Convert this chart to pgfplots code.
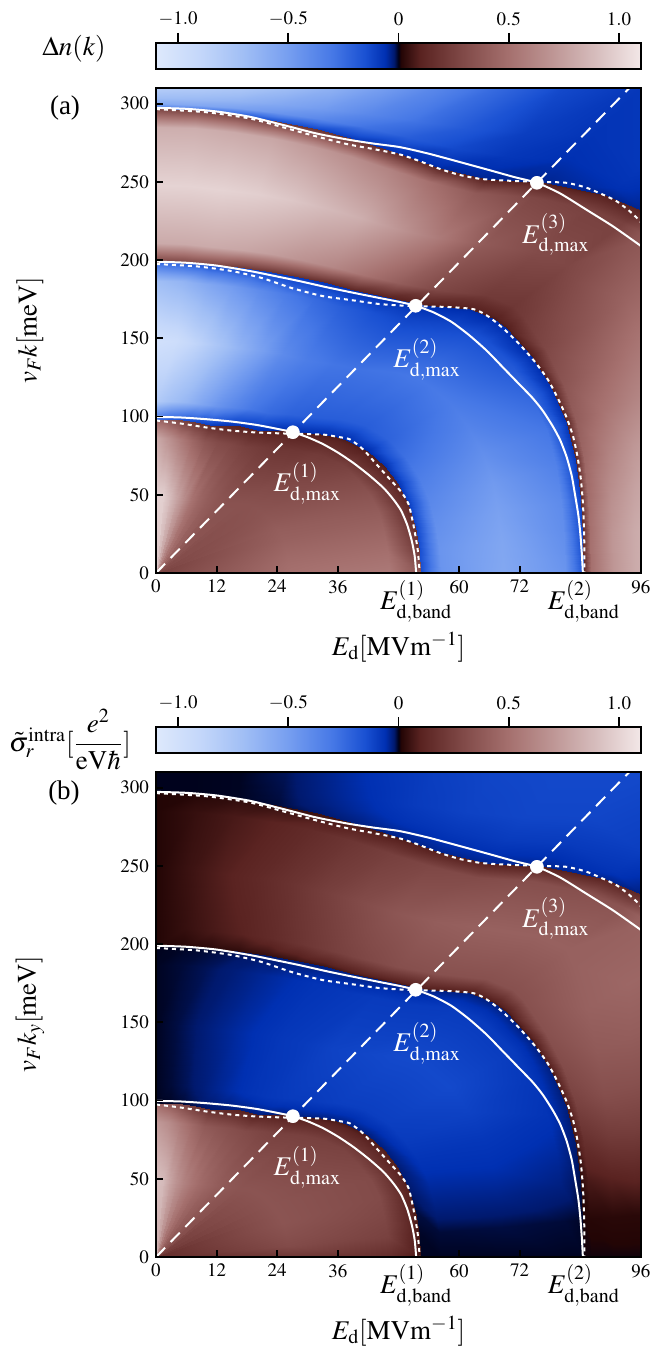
\documentclass[border=0pt]{standalone}
\usepackage{mathptmx}
\usepackage[no-math]{fontspec}
\setmainfont{Liberation Serif}
\usepackage{pgfplots}
\usepackage{pgfplotstable}
\pgfplotsset{compat=1.18}
\newcommand\lab{\fontsize{13.5}{16}\selectfont}

\pgfplotsset{colormap={dn}{
  rgb255(0pt)=(222,233,252)
  rgb255(20pt)=(196,215,250)
  rgb255(40pt)=(160,190,245)
  rgb255(60pt)=(118,158,240)
  rgb255(80pt)=(70,120,230)
  rgb255(95pt)=(25,80,210)
  rgb255(104pt)=(0,48,178)
  rgb255(108pt)=(0,25,110)
  rgb255(110pt)=(0,0,20)
  rgb255(111pt)=(35,5,5)
  rgb255(120pt)=(90,35,33)
  rgb255(140pt)=(130,75,73)
  rgb255(160pt)=(165,112,110)
  rgb255(180pt)=(190,150,149)
  rgb255(200pt)=(215,190,190)
  rgb255(220pt)=(243,232,232)
}}

% mesh: 20 rays x 18 points, from the origin outward across the sign boundaries
\pgfplotstableread{
x y a b
0 0 0.25 0.15
26.25 0 0.5 0.2
46.2 0 0.55 0.15
52.5 0 0.35 0.05
52.5 0 -0.15 -0.003
56.38 0 -0.45 -0.003
68.65 0 -0.56 -0.003
80.92 0 -0.45 -0.003
84.8 0 -0.15 -0.003
84.8 0 0.15 0.005
86.14 0 0.5 0.005
90.4 0 0.7 0.005
94.66 0 0.8 0.005
96 0 0.82 0.005
96 0 0.82 0.005
96 0 0.82 0.005
96 0 0.82 0.005
96 0 0.82 0.005
0 0 0.25 0.15
26.1 7.35 0.48 0.3
45.94 12.94 0.5 0.25
52.2 14.7 0.2 0.06
52.2 14.7 -0.15 -0.004
56.09 15.8 -0.45 -0.008
68.4 19.3 -0.55 -0.01
80.71 22.8 -0.42 -0.008
84.6 23.9 -0.12 -0.004
84.6 23.9 0.15 0.008
85.97 24.28 0.5 0.015
90.3 25.5 0.7 0.02
94.63 26.72 0.8 0.02
96 27.1 0.82 0.02
96 27.1 0.82 0.02
96 27.1 0.82 0.02
96 27.1 0.82 0.02
96 27.1 0.82 0.02
0 0 0.25 0.15
25.7 14.65 0.45 0.33
45.23 25.78 0.45 0.28
51.4 29.3 0.15 0.07
51.4 29.3 -0.12 -0.01
55.32 31.53 -0.42 -0.03
67.75 38.6 -0.52 -0.035
80.18 45.67 -0.4 -0.03
84.1 47.9 -0.1 -0.01
84.1 47.9 0.15 0.03
85.53 48.72 0.48 0.07
90.05 51.3 0.66 0.1
94.57 53.88 0.76 0.12
96 54.7 0.78 0.12
96 54.7 0.78 0.12
96 54.7 0.78 0.12
96 54.7 0.78 0.12
96 54.7 0.78 0.12
0 0 0.25 0.15
25.05 21.7 0.42 0.35
44.09 38.19 0.4 0.3
50.1 43.4 0.12 0.08
50.1 43.4 -0.1 -0.02
54.07 46.83 -0.38 -0.05
66.65 57.7 -0.48 -0.06
79.23 68.57 -0.35 -0.05
83.2 72 -0.08 -0.02
83.2 72 0.12 0.06
84.74 73.33 0.45 0.16
89.6 77.55 0.6 0.22
94.46 81.77 0.7 0.24
96 83.1 0.72 0.24
96 83.1 0.72 0.24
96 83.1 0.72 0.24
96 83.1 0.72 0.24
96 83.1 0.72 0.24
0 0 0.25 0.15
24.05 28.3 0.4 0.35
42.33 49.81 0.35 0.3
48.1 56.6 0.1 0.08
48.1 56.6 -0.08 -0.025
52.1 61.29 -0.33 -0.07
64.75 76.15 -0.42 -0.08
77.4 91.01 -0.3 -0.07
81.4 95.7 -0.07 -0.025
81.4 95.7 0.1 0.07
83.15 97.75 0.4 0.25
88.7 104.25 0.52 0.32
94.25 110.75 0.6 0.33
96 112.8 0.62 0.33
96 112.8 0.62 0.33
96 112.8 0.62 0.33
96 112.8 0.62 0.33
96 112.8 0.62 0.33
0 0 0.27 0.17
22.65 34.15 0.37 0.35
39.86 60.1 0.3 0.28
45.3 68.3 0.08 0.08
45.3 68.3 -0.06 -0.03
49.27 74.28 -0.27 -0.09
61.85 93.2 -0.36 -0.11
74.43 112.12 -0.24 -0.08
78.4 118.1 -0.06 -0.03
78.4 118.1 0.1 0.07
80.51 121.28 0.35 0.3
87.2 131.35 0.44 0.38
93.89 141.42 0.52 0.4
96 144.6 0.54 0.4
96 144.6 0.54 0.4
96 144.6 0.54 0.4
96 144.6 0.54 0.4
96 144.6 0.54 0.4
0 0 0.28 0.2
21 39.15 0.35 0.35
36.96 68.9 0.25 0.26
42 78.3 0.08 0.07
42 78.3 -0.05 -0.03
45.9 85.57 -0.22 -0.1
58.25 108.6 -0.32 -0.13
70.6 131.63 -0.18 -0.09
74.5 138.9 -0.05 -0.03
74.5 138.9 0.08 0.07
77.08 143.71 0.28 0.33
85.25 158.95 0.36 0.42
93.42 174.19 0.44 0.45
96 179 0.45 0.45
96 179 0.45 0.45
96 179 0.45 0.45
96 179 0.45 0.45
96 179 0.45 0.45
0 0 0.3 0.22
18.85 42.6 0.34 0.35
33.18 74.98 0.22 0.25
37.7 85.2 0.08 0.07
37.7 85.2 -0.05 -0.03
41.5 93.8 -0.2 -0.1
53.55 121.05 -0.3 -0.13
65.6 148.3 -0.15 -0.09
69.4 156.9 -0.05 -0.03
69.4 156.9 0.08 0.07
72.59 164.12 0.22 0.33
82.7 187 0.3 0.42
92.81 209.88 0.35 0.42
96 217.1 0.35 0.42
96 217.1 0.35 0.42
96 217.1 0.35 0.42
96 217.1 0.35 0.42
96 217.1 0.35 0.42
0 0 0.3 0.22
17.95 43.35 0.34 0.35
31.59 76.3 0.22 0.25
35.9 86.7 0.08 0.07
35.9 86.7 -0.05 -0.03
39.66 95.77 -0.2 -0.1
51.55 124.5 -0.3 -0.13
63.44 153.23 -0.14 -0.09
67.2 162.3 -0.05 -0.03
67.2 162.3 0.08 0.07
70.66 170.66 0.2 0.33
81.6 197.15 0.28 0.42
92.54 223.64 0.25 0.35
96 232 0.1 0.12
96 232 -0.04 -0.03
96 232 -0.04 -0.03
96 232 -0.04 -0.03
96 232 -0.04 -0.03
0 0 0.32 0.25
16.35 44.35 0.34 0.35
28.78 78.06 0.2 0.25
32.7 88.7 0.08 0.07
32.7 88.7 -0.05 -0.03
36.24 98.3 -0.2 -0.1
47.45 128.7 -0.29 -0.13
58.66 159.1 -0.12 -0.09
62.2 168.7 -0.05 -0.03
62.2 168.7 0.08 0.07
65.43 177.42 0.22 0.33
75.65 205.05 0.3 0.42
85.87 232.68 0.25 0.33
89.1 241.4 0.08 0.1
89.1 241.4 -0.04 -0.04
90.83 246.08 -0.06 -0.07
92.55 250.75 -0.07 -0.08
96 260.1 -0.08 -0.1
0 0 0.35 0.3
13.95 44.95 0.34 0.37
24.55 79.11 0.2 0.25
27.9 89.9 0.08 0.07
27.9 89.9 -0.05 -0.03
30.91 99.67 -0.2 -0.09
40.45 130.6 -0.28 -0.12
49.99 161.53 -0.12 -0.09
53 171.3 -0.05 -0.03
53 171.3 0.08 0.07
55.92 180.68 0.28 0.33
65.15 210.4 0.38 0.42
74.38 240.12 0.28 0.32
77.3 249.5 0.08 0.08
77.3 249.5 -0.04 -0.04
81.98 264.63 -0.06 -0.09
86.65 279.75 -0.07 -0.12
96 310 -0.08 -0.13
0 0 0.4 0.33
11.85 45.6 0.36 0.4
20.86 80.26 0.22 0.27
23.7 91.2 0.08 0.08
23.7 91.2 -0.05 -0.03
26.35 101.41 -0.22 -0.09
34.75 133.75 -0.29 -0.11
43.15 166.09 -0.15 -0.09
45.8 176.3 -0.05 -0.03
45.8 176.3 0.1 0.07
48.16 185.37 0.4 0.32
55.65 214.1 0.56 0.4
63.14 242.83 0.38 0.3
65.5 251.9 0.08 0.08
65.5 251.9 -0.04 -0.04
69.28 266.43 -0.08 -0.09
73.05 280.95 -0.1 -0.12
80.6 310 -0.13 -0.13
0 0 0.45 0.36
9.95 45.75 0.4 0.44
17.51 80.52 0.25 0.3
19.9 91.5 0.1 0.08
19.9 91.5 -0.06 -0.03
22.22 102.23 -0.25 -0.08
29.55 136.2 -0.33 -0.09
36.88 170.17 -0.2 -0.08
39.2 180.9 -0.06 -0.03
39.2 180.9 0.12 0.07
41.24 190.28 0.52 0.28
47.7 220 0.7 0.36
54.16 249.72 0.5 0.28
56.2 259.1 0.1 0.08
56.2 259.1 -0.05 -0.04
58.95 271.83 -0.13 -0.08
61.7 284.55 -0.18 -0.11
67.2 310 -0.25 -0.12
0 0 0.5 0.4
8.4 46.85 0.45 0.48
14.78 82.46 0.28 0.32
16.8 93.7 0.1 0.1
16.8 93.7 -0.07 -0.03
18.77 104.76 -0.3 -0.07
25 139.8 -0.4 -0.08
31.23 174.84 -0.25 -0.07
33.2 185.9 -0.07 -0.03
33.2 185.9 0.15 0.06
34.98 195.78 0.62 0.24
40.6 227.05 0.82 0.3
46.22 258.32 0.6 0.24
48 268.2 0.12 0.07
48 268.2 -0.06 -0.035
49.85 278.65 -0.2 -0.07
51.7 289.1 -0.28 -0.09
55.4 310 -0.38 -0.1
0 0 0.55 0.45
6.85 47.4 0.52 0.53
12.06 83.42 0.3 0.35
13.7 94.8 0.12 0.12
13.7 94.8 -0.08 -0.025
15.34 106.21 -0.38 -0.055
20.55 142.35 -0.52 -0.065
25.76 178.49 -0.32 -0.055
27.4 189.9 -0.08 -0.025
27.4 189.9 0.18 0.05
28.91 200.35 0.68 0.19
33.7 233.45 0.88 0.24
38.49 266.55 0.66 0.19
40 277 0.15 0.06
40 277 -0.08 -0.03
41.2 285.25 -0.28 -0.05
42.4 293.5 -0.38 -0.06
44.8 310 -0.5 -0.07
0 0 0.62 0.5
5.35 47.45 0.66 0.6
9.42 83.51 0.36 0.38
10.7 94.9 0.15 0.15
10.7 94.9 -0.1 -0.02
12.02 106.66 -0.45 -0.04
16.2 143.9 -0.64 -0.05
20.38 181.14 -0.4 -0.04
21.7 192.9 -0.1 -0.02
21.7 192.9 0.2 0.04
22.94 203.8 0.74 0.14
26.85 238.3 0.94 0.18
30.76 272.8 0.72 0.14
32 283.7 0.18 0.05
32 283.7 -0.12 -0.02
32.73 290.28 -0.38 -0.03
33.45 296.85 -0.48 -0.035
34.9 310 -0.62 -0.04
0 0 0.7 0.58
4 48.15 0.78 0.68
7.04 84.74 0.45 0.46
8 96.3 0.2 0.2
8 96.3 -0.12 -0.015
8.98 108.19 -0.55 -0.025
12.1 145.85 -0.76 -0.035
15.22 183.51 -0.48 -0.025
16.2 195.4 -0.12 -0.015
16.2 195.4 0.22 0.03
17.14 206.64 0.78 0.1
20.1 242.25 0.98 0.13
23.06 277.86 0.78 0.1
24 289.1 0.2 0.04
24 289.1 -0.15 -0.008
24.43 294.33 -0.45 -0.01
24.85 299.55 -0.56 -0.012
25.7 310 -0.7 -0.015
0 0 0.8 0.68
2.65 48.8 0.9 0.78
4.66 85.89 0.56 0.55
5.3 97.6 0.25 0.28
5.3 97.6 -0.15 -0.008
5.95 109.49 -0.65 -0.015
8 147.15 -0.88 -0.02
10.05 184.81 -0.56 -0.015
10.7 196.7 -0.15 -0.008
10.7 196.7 0.25 0.02
11.34 208.28 0.8 0.07
13.35 244.95 1.0 0.09
15.36 281.62 0.8 0.07
16 293.2 0.22 0.03
16 293.2 -0.2 -0.003
16.23 297.4 -0.52 -0.003
16.45 301.6 -0.63 -0.003
16.9 310 -0.77 -0.003
0 0 0.88 0.76
1.35 49.1 0.98 0.88
2.38 86.42 0.68 0.65
2.7 98.2 0.35 0.38
2.7 98.2 -0.2 -0.004
3.02 110.22 -0.72 -0.008
4.05 148.3 -0.97 -0.01
5.08 186.38 -0.64 -0.008
5.4 198.4 -0.2 -0.004
5.4 198.4 0.25 0.015
5.71 210.1 0.8 0.04
6.7 247.15 1.0 0.05
7.69 284.2 0.82 0.04
8 295.9 0.25 0.015
8 295.9 -0.25 -0.002
8.1 299.43 -0.56 -0.002
8.2 302.95 -0.67 -0.002
8.4 310 -0.8 -0.002
0 0 0.95 0.82
0 49 1.0 0.92
0 86.24 0.8 0.72
0 98 0.45 0.48
0 98 -0.25 -0.002
0 110.12 -0.8 -0.003
0 148.5 -1.0 -0.003
0 186.88 -0.7 -0.003
0 199 -0.25 -0.002
0 199 0.25 0.01
0 210.76 0.8 0.01
0 248 1.0 0.01
0 285.24 0.82 0.01
0 297 0.25 0.01
0 297 -0.3 -0.002
0 300.25 -0.58 -0.002
0 303.5 -0.69 -0.002
0 310 -0.82 -0.002
}\meshdata

\pgfplotsset{panel/.style={
  width=242.5pt, height=242.5pt, scale only axis,
  xmin=0, xmax=96, ymin=0, ymax=310,
  axis on top,
  colormap name=dn,
  point meta min=-1.1, point meta max=1.1,
  xtick={0,12,24,36,60,72,96},
  ytick={0,50,100,150,200,250,300},
  tick align=inside, tick pos=left,
  major tick length=3.5pt,
  every tick/.style={black, line width=0.9pt},
  axis line style={line width=1.2pt},
  tick label style={font=\fontsize{9.5}{11}\selectfont},
  label style={font=\lab},
  extra x ticks={51.5,84.7},
  extra x tick labels={$E^{(1)}_{\mathrm{d,band}}$,$E^{(2)}_{\mathrm{d,band}}$},
  extra x tick style={major tick length=0pt, tick label style={font=\lab}},
  xlabel={$E_{\mathrm{d}}[\mathrm{MVm}^{-1}]$},
  xlabel style={at={(axis description cs:0.5,-0.1526)}, anchor=center},
  ylabel style={at={(axis description cs:-0.26,0.5)}, anchor=center},
  colorbar horizontal,
  colorbar shift/.style={},
  colorbar style={
    at={(parent axis.north west)}, anchor=south west, yshift=9.5pt,
    width=242.5pt, height=13pt, scale only axis,
    xtick={-1,-0.5,0,0.5,1},
    xticklabels={$-1.0$,$-0.5$,$0$,$0.5$,$1.0$},
    xtick pos=right, xticklabel pos=right,
    tick align=outside, major tick length=5pt,
    every tick/.style={black, line width=0.9pt},
    axis line style={line width=1.2pt},
    tick label style={font=\fontsize{9.5}{11}\selectfont},
    ytick=\empty,
  },
}}

\begin{document}
\begin{tikzpicture}
\useasboundingbox (-78pt,-388.5pt) rectangle (248pt,286.5pt);
% ---------------- panel (a)
\begin{axis}[panel, at={(0pt,0pt)}, anchor=south west, ylabel={$v_F k[\mathrm{meV}]$}]
\addplot[surf, shader=interp, mesh/rows=20, mesh/cols=18, point meta=explicit] table[x=x, y=y, meta=a] {\meshdata};
\addplot[white, line width=1pt, smooth, tension=0.4] coordinates {(0,99.8) (5,99.4) (10,98.3) (15,96.8) (20,94.6) (25,91.5) (27.1,90) (30,86.8) (33,82.5) (36,77) (39,70.5) (42,63) (45,54.5) (47,47) (48.5,40) (49.7,31) (50.6,21) (51.2,11) (51.5,0)};
\addplot[white, line width=1pt, smooth, tension=0.4] coordinates {(0,199) (6,198.3) (12,196.5) (18.6,193) (24,189.5) (28.5,186.5) (34,182.5) (40,178.5) (45,175.3) (48.3,173.2) (51.4,170.8) (55,166.5) (58.5,160.5) (62,152) (65.5,142) (68.5,132) (71.5,122) (74.5,112) (76.5,104) (78.5,94) (80,85) (81.3,74) (82.3,62) (83,49) (83.6,37) (84,25) (84.3,12) (84.5,0)};
\addplot[white, line width=1pt, smooth, tension=0.4] coordinates {(0,297.3) (6,296.7) (12,295) (18.6,291.6) (25,286.5) (31.8,280.9) (38,277) (43,274.5) (48.3,272.2) (54,268) (60,262.8) (66,257.5) (71,253) (75.4,249.4) (80,242.6) (85.3,232) (90.5,221.5) (96,209)};
\addplot[white, line width=1pt, dash pattern=on 2pt off 2pt, smooth, tension=0.4] coordinates {(0,97.5) (5,95.5) (10,93) (15,91) (20,89.8) (27,89) (33,88.5) (36,87) (38.4,85.4) (41,79) (43.5,70) (46,61) (48.5,52) (50,44) (51,30) (51.8,15) (52.2,0)};
\addplot[white, line width=1pt, dash pattern=on 2pt off 2pt, smooth, tension=0.4] coordinates {(0,197.5) (8,196) (15,193) (21,188.5) (27,182) (33,177) (38.5,174.5) (44,172) (48.3,171) (52,170.5) (58,170) (63,168.5) (66,163.5) (69,155.5) (72,146) (75,135) (77.5,124) (79.5,112) (81.2,100) (82.5,88) (83.4,75) (84.1,60) (84.5,45) (84.7,30) (84.8,15) (84.8,0)};
\addplot[white, line width=1pt, dash pattern=on 2pt off 2pt, smooth, tension=0.4] coordinates {(0,296.5) (10,294.5) (18.6,290.5) (25,285) (31.8,279) (38,274) (43,271) (48.3,267.5) (52,263.5) (56,258.5) (60,254.5) (64,252) (68,251) (75.4,250) (81,249.5) (85,246.5) (88,242.5) (91,238) (93.5,232) (95.5,226) (96,224)};
\addplot[white, line width=1pt, dash pattern=on 6.5pt off 4pt] coordinates {(0,0) (93.7,310)};
\addplot[only marks, mark=*, mark size=3.2pt, white] coordinates {(27.1,90) (51.4,170.8) (75.4,249.4)};
\node[anchor=north west, inner sep=0pt, text=white, font=\lab] at (axis cs:23.2,71) {$E^{(1)}_{\mathrm{d,max}}$};
\node[anchor=north west, inner sep=0pt, text=white, font=\lab] at (axis cs:46.9,150) {$E^{(2)}_{\mathrm{d,max}}$};
\node[anchor=north west, inner sep=0pt, text=white, font=\lab] at (axis cs:72.4,229.8) {$E^{(3)}_{\mathrm{d,max}}$};
\end{axis}
% ---------------- panel (b)
\begin{axis}[panel, at={(0pt,-342pt)}, anchor=south west, ylabel={$v_F k_y[\mathrm{meV}]$}]
\addplot[surf, shader=interp, mesh/rows=20, mesh/cols=18, point meta=explicit] table[x=x, y=y, meta=b] {\meshdata};
\addplot[white, line width=1pt, smooth, tension=0.4] coordinates {(0,99.8) (5,99.4) (10,98.3) (15,96.8) (20,94.6) (25,91.5) (27.1,90) (30,86.8) (33,82.5) (36,77) (39,70.5) (42,63) (45,54.5) (47,47) (48.5,40) (49.7,31) (50.6,21) (51.2,11) (51.5,0)};
\addplot[white, line width=1pt, smooth, tension=0.4] coordinates {(0,199) (6,198.3) (12,196.5) (18.6,193) (24,189.5) (28.5,186.5) (34,182.5) (40,178.5) (45,175.3) (48.3,173.2) (51.4,170.8) (55,166.5) (58.5,160.5) (62,152) (65.5,142) (68.5,132) (71.5,122) (74.5,112) (76.5,104) (78.5,94) (80,85) (81.3,74) (82.3,62) (83,49) (83.6,37) (84,25) (84.3,12) (84.5,0)};
\addplot[white, line width=1pt, smooth, tension=0.4] coordinates {(0,297.3) (6,296.7) (12,295) (18.6,291.6) (25,286.5) (31.8,280.9) (38,277) (43,274.5) (48.3,272.2) (54,268) (60,262.8) (66,257.5) (71,253) (75.4,249.4) (80,242.6) (85.3,232) (90.5,221.5) (96,209)};
\addplot[white, line width=1pt, dash pattern=on 2pt off 2pt, smooth, tension=0.4] coordinates {(0,97.5) (5,95.5) (10,93) (15,91) (20,89.8) (27,89) (33,88.5) (36,87) (38.4,85.4) (41,79) (43.5,70) (46,61) (48.5,52) (50,44) (51,30) (51.8,15) (52.2,0)};
\addplot[white, line width=1pt, dash pattern=on 2pt off 2pt, smooth, tension=0.4] coordinates {(0,197.5) (8,196) (15,193) (21,188.5) (27,182) (33,177) (38.5,174.5) (44,172) (48.3,171) (52,170.5) (58,170) (63,168.5) (66,163.5) (69,155.5) (72,146) (75,135) (77.5,124) (79.5,112) (81.2,100) (82.5,88) (83.4,75) (84.1,60) (84.5,45) (84.7,30) (84.8,15) (84.8,0)};
\addplot[white, line width=1pt, dash pattern=on 2pt off 2pt, smooth, tension=0.4] coordinates {(0,296.5) (10,294.5) (18.6,290.5) (25,285) (31.8,279) (38,274) (43,271) (48.3,267.5) (52,263.5) (56,258.5) (60,254.5) (64,252) (68,251) (75.4,250) (81,249.5) (85,246.5) (88,242.5) (91,238) (93.5,232) (95.5,226) (96,224)};
\addplot[white, line width=1pt, dash pattern=on 6.5pt off 4pt] coordinates {(0,0) (93.7,310)};
\addplot[only marks, mark=*, mark size=3.2pt, white] coordinates {(27.1,90) (51.4,170.8) (75.4,249.4)};
\node[anchor=north west, inner sep=0pt, text=white, font=\lab] at (axis cs:23.2,71) {$E^{(1)}_{\mathrm{d,max}}$};
\node[anchor=north west, inner sep=0pt, text=white, font=\lab] at (axis cs:46.9,150) {$E^{(2)}_{\mathrm{d,max}}$};
\node[anchor=north west, inner sep=0pt, text=white, font=\lab] at (axis cs:72.4,229.8) {$E^{(3)}_{\mathrm{d,max}}$};
\end{axis}
\node[font=\lab] at (-41pt,262pt) {$\Delta n(k)$};
\node[font=\lab] at (-45.5pt,232.5pt) {(a)};
\node[font=\lab] at (-43pt,-83.5pt) {$\tilde{\sigma}_r^{\mathrm{intra}}[{\displaystyle\frac{e^2}{\mathrm{eV}\hbar}}]$};
\node[font=\lab] at (-46pt,-110pt) {(b)};
\end{tikzpicture}
\end{document}
